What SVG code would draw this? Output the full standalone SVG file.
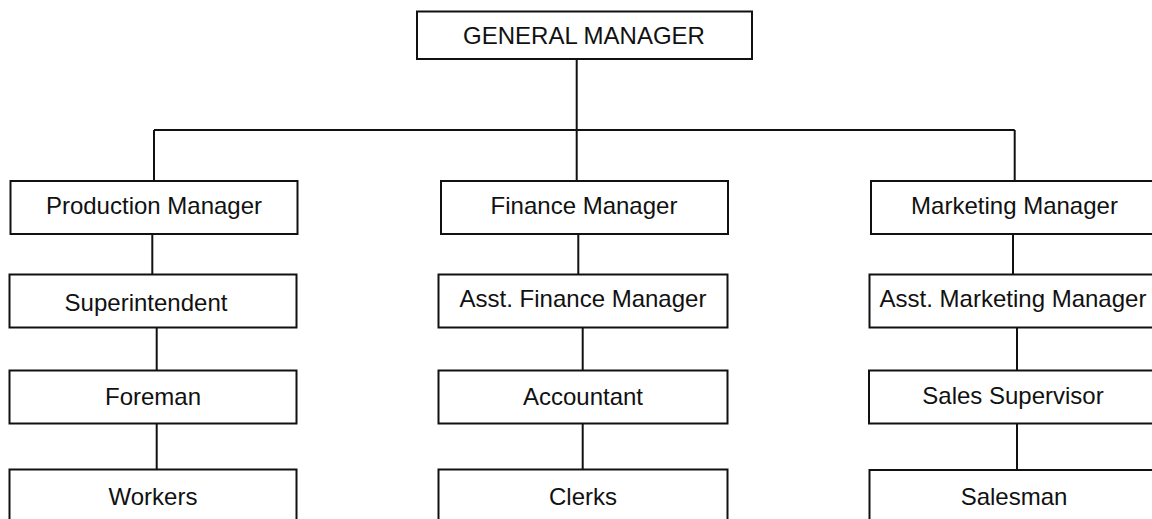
<svg xmlns="http://www.w3.org/2000/svg" width="1152" height="519" viewBox="0 0 1152 519">
<style>
.box{fill:#fff;stroke:#111;stroke-width:2}
.lbl{font-family:"Liberation Sans",Arial,sans-serif;font-size:24px;fill:#111;text-anchor:middle}
.con{fill:none;stroke:#111;stroke-width:2}
</style>
<rect width="1152" height="519" fill="#fff"/>
<g id="connectors">
<path class="con" d="M576.7 59V180.5"/>
<path class="con" d="M154 130H1014.7"/>
<path class="con" d="M154 130V180.5"/>
<path class="con" d="M1014.7 130V180.5"/>
<path class="con" d="M152.3 234V274"/>
<path class="con" d="M156.7 327.5V370"/>
<path class="con" d="M156.7 423.5V469"/>
<path class="con" d="M578.3 234V274"/>
<path class="con" d="M582.7 327.5V370"/>
<path class="con" d="M582.7 423.5V469"/>
<path class="con" d="M1013 234V274"/>
<path class="con" d="M1017 327.5V370"/>
<path class="con" d="M1017 423.5V469.5"/>
</g>
<g id="gm"><rect class="box" x="417" y="11.5" width="335" height="47.5"/><text class="lbl" x="584" y="44">GENERAL MANAGER</text></g>
<g id="production-manager"><rect class="box" x="10.5" y="181" width="287" height="53"/><text class="lbl" x="154" y="213.5">Production Manager</text></g>
<g id="finance-manager"><rect class="box" x="441" y="181" width="287" height="53"/><text class="lbl" x="584" y="213.5">Finance Manager</text></g>
<g id="marketing-manager"><rect class="box" x="871" y="181" width="287" height="53"/><text class="lbl" x="1014.5" y="213.5">Marketing Manager</text></g>
<g id="superintendent"><rect class="box" x="9.5" y="274.5" width="287" height="53"/><text class="lbl" x="146" y="311">Superintendent</text></g>
<g id="asst-finance-manager"><rect class="box" x="438.5" y="274.5" width="289" height="53"/><text class="lbl" x="583" y="307">Asst. Finance Manager</text></g>
<g id="asst-marketing-manager"><rect class="box" x="869.5" y="274.5" width="289" height="53"/><text class="lbl" x="1013" y="307">Asst. Marketing Manager</text></g>
<g id="foreman"><rect class="box" x="9.5" y="370.5" width="287" height="53"/><text class="lbl" x="153" y="405">Foreman</text></g>
<g id="accountant"><rect class="box" x="438.5" y="370.5" width="289" height="53"/><text class="lbl" x="583" y="405">Accountant</text></g>
<g id="sales-supervisor"><rect class="box" x="869" y="370.5" width="289" height="53"/><text class="lbl" x="1013" y="404">Sales Supervisor</text></g>
<g id="workers"><rect class="box" x="9.5" y="469.5" width="287" height="60"/><text class="lbl" x="153" y="505">Workers</text></g>
<g id="clerks"><rect class="box" x="438.5" y="469.5" width="289" height="60"/><text class="lbl" x="583" y="504.5">Clerks</text></g>
<g id="salesman"><rect class="box" x="869.5" y="470" width="289" height="60"/><text class="lbl" x="1014" y="505">Salesman</text></g>
</svg>
